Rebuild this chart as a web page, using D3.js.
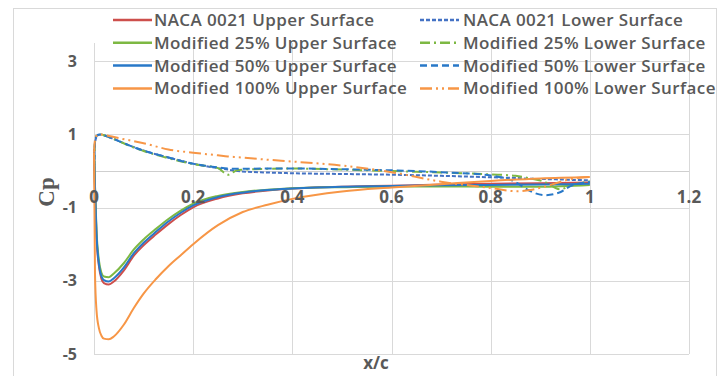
<!DOCTYPE html>
<html><head><meta charset="utf-8">
<script src="https://cdn.jsdelivr.net/npm/d3@7"></script>
<style>body{margin:0;background:#fff}svg{display:block}</style>
</head><body><svg id="c" width="728" height="376"></svg>
<script>
// ---- data ----
const xUpper = [0, 0.002, 0.005, 0.01, 0.015, 0.02, 0.03, 0.04, 0.06, 0.08, 0.1, 0.125, 0.15, 0.175, 0.2, 0.25, 0.3, 0.35, 0.4, 0.5, 0.6, 0.7, 0.8, 0.9, 1.0];
const cpNacaUpper = [0.6, -0.5, -1.8, -2.6, -2.95, -3.06, -3.1, -3.02, -2.72, -2.32, -2.03, -1.73, -1.45, -1.2, -0.99, -0.75, -0.61, -0.53, -0.48, -0.43, -0.4, -0.37, -0.35, -0.33, -0.31];
const cpMod25Upper = [0.6, -0.4, -1.6, -2.45, -2.78, -2.88, -2.9, -2.8, -2.52, -2.15, -1.87, -1.58, -1.31, -1.08, -0.89, -0.68, -0.57, -0.51, -0.47, -0.44, -0.42, -0.42, -0.43, -0.43, -0.38];
const cpMod50Upper = [0.6, -0.45, -1.7, -2.55, -2.88, -2.98, -3.02, -2.93, -2.64, -2.25, -1.96, -1.66, -1.38, -1.14, -0.94, -0.71, -0.59, -0.52, -0.48, -0.43, -0.41, -0.39, -0.38, -0.37, -0.35];
const cpMod100Upper = [0.5, -2.8, -3.8, -4.3, -4.5, -4.58, -4.6, -4.52, -4.2, -3.75, -3.35, -2.95, -2.6, -2.3, -2.0, -1.48, -1.12, -0.92, -0.76, -0.56, -0.45, -0.36, -0.27, -0.2, -0.16];

const xLower = [0, 0.002, 0.005, 0.01, 0.015, 0.02, 0.03, 0.05, 0.075, 0.1, 0.15, 0.2, 0.25, 0.27, 0.29, 0.35, 0.4, 0.5, 0.6, 0.7, 0.8, 0.85, 0.88, 0.91, 0.94, 0.96, 1.0];
const cpNacaLower = [0, 0.75, 0.93, 0.99, 1.0, 0.98, 0.93, 0.82, 0.68, 0.56, 0.37, 0.2, 0.08, 0.04, 0.0, -0.04, -0.06, -0.08, -0.1, -0.13, -0.17, -0.19, -0.21, -0.22, -0.23, -0.24, -0.25];
const cpMod25Lower = [0, 0.8, 0.96, 1.0, 1.0, 0.98, 0.93, 0.82, 0.67, 0.55, 0.35, 0.19, 0.08, -0.1, 0.03, 0.06, 0.07, 0.04, 0.0, -0.04, -0.09, -0.13, -0.2, -0.3, -0.5, -0.4, -0.28];
const cpMod50Lower = [0, 0.78, 0.95, 1.0, 1.0, 0.98, 0.93, 0.82, 0.68, 0.56, 0.37, 0.2, 0.1, 0.07, 0.06, 0.07, 0.07, 0.05, 0.02, -0.03, -0.12, -0.3, -0.55, -0.66, -0.58, -0.42, -0.3];
const cpMod100Lower = [0.5, 0.85, 0.96, 1.0, 1.0, 0.99, 0.96, 0.9, 0.83, 0.76, 0.59, 0.5, 0.43, 0.4, 0.38, 0.31, 0.26, 0.15, -0.03, -0.29, -0.46, -0.55, -0.52, -0.42, -0.3, -0.22, -0.16];

const seriesNames = ["NACA 0021 Upper Surface", "NACA 0021 Lower Surface",
  "Modified 25% Upper Surface", "Modified 25% Lower Surface",
  "Modified 50% Upper Surface", "Modified 50% Lower Surface",
  "Modified 100% Upper Surface", "Modified 100% Lower Surface"];
const xTicks = [0, 0.2, 0.4, 0.6, 0.8, 1, 1.2];
const xTickLabels = ["0", "0.2", "0.4", "0.6", "0.8", "1", "1.2"];
const yTicks = [-5, -3, -1, 1, 3];
const yTickLabels = ["-5", "-3", "-1", "1", "3"];

// ---- styles ----
const styles = [
  {color: "#CD4F4C", dash: null},
  {color: "#4472C4", dash: "4,2"},
  {color: "#7DB843", dash: null},
  {color: "#7DB843", dash: "10,4,2,4"},
  {color: "#2878C8", dash: null},
  {color: "#2878C8", dash: "7,4"},
  {color: "#F79646", dash: null},
  {color: "#F79646", dash: "12,4,2,4,2,4"}
];
const xs = [xUpper, xLower, xUpper, xLower, xUpper, xLower, xUpper, xLower];
const ys = [cpNacaUpper, cpNacaLower, cpMod25Upper, cpMod25Lower, cpMod50Upper, cpMod50Lower, cpMod100Upper, cpMod100Lower];
const series = seriesNames.map((n, i) => ({name: n, ...styles[i], pts: xs[i].map((x, j) => [x, ys[i][j]])}));

const svg = d3.select("#c");
const textCol = "#595959", gridCol = "#d9d9d9";
const font = "'Open Sans', 'Liberation Sans', sans-serif";

svg.append("rect").attr("x", 13.5).attr("y", 8.5).attr("width", 703).attr("height", 380)
  .attr("fill", "#fff").attr("stroke", gridCol);

const x = d3.scaleLinear().domain([0, 1.2]).range([94, 689]);
const y = d3.scaleLinear().domain([-5, 3.5]).range([354, 43]);

// grid
const g = svg.append("g");
g.selectAll(".hg").data(yTicks).join("line")
  .attr("x1", x(0)).attr("x2", x(1.2)).attr("y1", d => Math.round(y(d)) + 0.5).attr("y2", d => Math.round(y(d)) + 0.5)
  .attr("stroke", gridCol);
g.selectAll(".vg").data(xTicks).join("line")
  .attr("y1", y(3.5)).attr("y2", y(-5)).attr("x1", d => Math.round(x(d)) + 0.5).attr("x2", d => Math.round(x(d)) + 0.5)
  .attr("stroke", gridCol);
// zero axis line
g.append("line").attr("x1", x(0)).attr("x2", x(1.2)).attr("y1", Math.round(y(0)) + 0.5).attr("y2", Math.round(y(0)) + 0.5)
  .attr("stroke", "#cfcfcf");

// tick labels
svg.selectAll(".yl").data(yTicks).join("text")
  .attr("x", 77).attr("y", d => y(d)).attr("dy", "0.35em").attr("text-anchor", "end")
  .attr("font-family", font).attr("font-weight", 700).attr("font-size", 16).attr("fill", textCol)
  .text((d, i) => yTickLabels[i]);

// series
const line = d3.line().x(d => x(d[0])).y(d => y(d[1])).curve(d3.curveMonotoneX);
svg.append("g").selectAll("path").data(series).join("path")
  .attr("d", d => line(d.pts)).attr("fill", "none").attr("stroke", d => d.color)
  .attr("stroke-width", 2).attr("stroke-dasharray", d => d.dash);

svg.selectAll(".xl").data(xTicks).join("text")
  .attr("x", d => x(d)).attr("y", y(0) + 26).attr("dy", "0.35em").attr("text-anchor", "middle")
  .attr("font-family", font).attr("font-weight", 700).attr("font-size", 17).attr("fill", textCol)
  .text((d, i) => xTickLabels[i]);

// axis titles
svg.append("text").attr("transform", "translate(46,192) rotate(-90)").attr("text-anchor", "middle")
  .attr("dy", "0.35em").attr("font-family", "'Liberation Serif', serif").attr("font-weight", 700)
  .attr("font-size", 23).attr("fill", textCol).text("Cp");
svg.append("text").attr("x", 376).attr("y", 363).attr("dy", "0.35em").attr("text-anchor", "middle")
  .attr("font-family", font).attr("font-weight", 700).attr("font-size", 17).attr("fill", textCol).text("x/c");

// legend
const leg = svg.append("g");
series.forEach((s, i) => {
  const col = i % 2, row = Math.floor(i / 2);
  const lx = col === 0 ? 113 : 420, tx = col === 0 ? 154 : 463;
  const ly = 20 + row * 22.8;
  leg.append("line").attr("x1", lx).attr("x2", lx + 39).attr("y1", ly).attr("y2", ly)
    .attr("stroke", s.color).attr("stroke-width", 2.5).attr("stroke-dasharray", s.dash);
  leg.append("text").attr("x", tx).attr("y", ly).attr("dy", "0.35em")
    .attr("font-family", font).attr("font-weight", 600).attr("font-size", 17).attr("letter-spacing", 0.4)
    .attr("fill", textCol).text(s.name);
});
</script>
</body></html>
